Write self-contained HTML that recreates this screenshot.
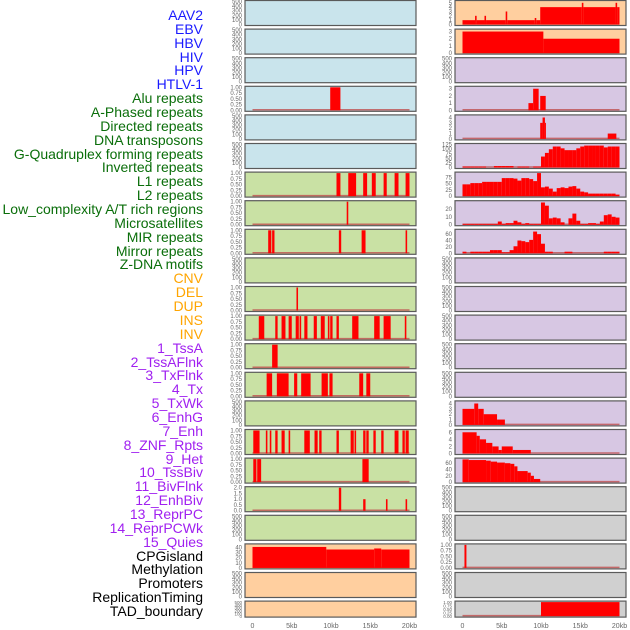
<!DOCTYPE html>
<html><head><meta charset="utf-8"><style>
body{margin:0;width:630px;height:630px;background:#fff;overflow:hidden;font-family:"Liberation Sans",sans-serif;position:relative}
.lbl{position:absolute;right:427px;font-size:14px;line-height:14px;white-space:nowrap}
svg{position:absolute;left:0;top:0}
</style></head><body>
<div id="labels"></div>
<svg id="chart" width="630" height="630"></svg>
<script>
const labelNames=["AAV2","EBV","HBV","HIV","HPV","HTLV-1","Alu repeats","A-Phased repeats","Directed repeats","DNA transposons","G-Quadruplex forming repeats","Inverted repeats","L1 repeats","L2 repeats","Low_complexity A/T rich regions","Microsatellites","MIR repeats","Mirror repeats","Z-DNA motifs","CNV","DEL","DUP","INS","INV","1_TssA","2_TssAFlnk","3_TxFlnk","4_Tx","5_TxWk","6_EnhG","7_Enh","8_ZNF_Rpts","9_Het","10_TssBiv","11_BivFlnk","12_EnhBiv","13_ReprPC","14_ReprPCWk","15_Quies","CPGisland","Methylation","Promoters","ReplicationTiming","TAD_boundary"];
const labelGroups=[6,13,5,15,5];
const groupColors=["#1a1aff","#0a6e0a","#ffa500","#a020f0","#000"];
// left column tracks: [bg, ymax, ticks, segments [startKb,endKb,value]]
const leftBg=["b","b","b","b","b","b","g","g","g","g","g","g","g","g","g","g","g","g","g","o","o","o"];
const rightBg=["o","o","p","p","p","p","p","p","p","p","p","p","p","p","p","p","p","x","x","x","x","x"];
const T01=[0,0.25,0.5,0.75,1];
const leftTicks=[null,null,null,T01,null,null,T01,T01,T01,null,T01,T01,T01,T01,null,T01,T01,[0,0.5,1,1.5,2],null,[0,10,20,30,40],null,null];
const leftMax=[1,1,1,1,1,1,1,1,1,1,1,1,1,1,1,1,1,2,1,45,1,1];
const leftSegs=[[],[],[],[[9.9,11.2,1]],[],[],
[[10.7,11.2,1],[12.2,13.2,1],[14.1,14.6,1],[15.2,15.7,1],[16.7,17.1,1],[18.1,18.6,1],[19.5,20,1]],
[[12,12.2,1]],
[[2,2.4,1],[2.5,2.8,1],[11,11.3,1],[13.9,14.4,1],[19.5,19.7,1]],
[],
[[5.6,5.8,1]],
[[0.8,1.5,1],[2.9,3.2,1],[3.7,4.2,1],[4.6,5,1],[5.5,5.9,1],[6,6.2,1],[6.6,7,1],[7.8,8.2,1],[8.7,9.2,1],[9.6,9.8,1],[9.9,10.2,1],[10.7,11,1],[12.7,13.5,1],[15.5,16.2,1],[16.7,17.6,1],[19.4,19.6,1]],
[[2.5,3.2,1]],
[[1.8,2.5,1],[3.1,4.6,1],[5.3,5.7,1],[6.2,7.4,1],[8.8,9.6,1],[9.8,10.2,1],[13.6,14.1,1],[14.5,15,1]],
[],
[[0.1,0.9,1],[1.7,1.9,1],[2.2,2.4,1],[2.9,3.2,1],[3.7,4.1,1],[4.6,4.8,1],[6.6,7.3,1],[7.9,8.3,1],[8.5,8.8,1],[10.7,11,1],[12.5,12.9,1],[13,13.2,1],[14.1,14.4,1],[14.5,14.8,1],[15.4,15.7,1],[16.4,16.7,1],[18.1,18.6,1],[19.1,19.4,1],[19.5,19.9,1]],
[[0.1,0.5,1],[0.6,1.1,1],[14,14.8,1]],
[[11,11.3,2],[14.1,14.4,1],[17,17.2,1],[19.5,19.7,1]],
[],
[[0,9.4,41],[9.4,15.5,36],[15.5,16.4,38],[16.4,20,36]],
[],[]];
const rightTicks=[[0,1,2,3,4,5],[0,1,2,3],null,[0,1,2,3],[0,1,2,3,4],[0,25,50,75,100,125],[0,25,50,75],[0,10,20],[0,20,40,60],null,null,null,null,null,[0,1,2,3,4],[0,2,4,6],[0,20,40,60],null,null,T01,null,T01];
const rightMax=[5.3,3.2,1,3.2,4.3,126,92,29,72,1,1,1,1,1,4.3,6.5,73,1,1,1,1,1];
const binsG4=[5,5,5,5,5,5,0,0,8,8,8,8,8,0,5,5,5,0,5,5,60,80,100,115,115,105,95,95,95,105,115,120,120,120,120,120,110,115,115,115];
const binsInv=[47,47,52,52,52,57,57,57,57,57,72,72,72,70,62,72,72,68,60,92,35,38,30,18,32,35,32,38,40,30,18,15,10,10,10,10,10,10,10,6];
const binsLow=[1,1,1,1,1,1,1,1,1,4,1,2,2,5,3,1,2,1,1,1,28,24,8,9,8,3,0,8,14,5,1,1,2,2,1,4,12,13,10,9];
const binsMir=[5,0,5,5,5,5,5,10,10,10,3,3,10,22,40,38,35,42,68,60,30,5,5,0,0,0,5,5,0,0,0,0,0,0,0,0,5,5,5,5];
function bins(a){return a.map((v,i)=>[i*0.5,(i+1)*0.5,v]);}
const rightSegs=[
[[0,1.6,1],[1.6,1.8,2],[1.8,2.8,1],[2.8,3,2],[3,5.5,1],[5.5,5.7,3],[5.7,9.2,1],[9.2,9.4,1.5],[9.4,9.9,1],[9.9,15.2,4],[15.2,15.4,5],[15.4,19.5,4],[19.5,19.7,5],[19.7,20,4]],
[[0,10.3,3],[10.3,20,2]],
[],
[[8.4,9,1],[9,9.7,3],[9.9,10.6,2]],
[[9.9,10.2,3],[10.2,10.5,4],[10.5,10.6,3],[18.5,19.6,1]],
bins(binsG4),bins(binsInv),bins(binsLow),bins(binsMir),
[],[],[],[],[],
[[0,1.5,3],[1.5,2,4],[2,2.7,3],[2.7,4.4,2],[4.4,5.4,1]],
[[0,1.8,6],[1.8,2.2,5],[2.2,3,4],[3,3.8,3],[3.8,4.6,2],[4.6,5,1],[5,6.4,2],[6.4,8.7,1]],
[[0,0.8,72],[0.8,3,70],[3,3.6,68],[3.6,4.4,65],[4.4,5.4,62],[5.4,6.1,60],[6.1,6.6,58],[6.6,7,50],[7,8.3,35],[8.3,8.7,30],[8.7,9.1,20],[9.1,9.9,10]],
[],[],[[0.25,0.5,1]],[],[[10,20,1]]];
const xTicks=[0,5,10,15,20];
const xTickLabels=["0","5kb","10kb","15kb","20kb"];
const bgColors={b:"#c9e4ec",g:"#c9e1a4",o:"#ffcf9f",p:"#d7c7e3",x:"#d0d0d0"};
const NS="http://www.w3.org/2000/svg";
const svg=document.getElementById("chart");
function mk(tag,attrs,parent){const e=document.createElementNS(NS,tag);for(const k in attrs)e.setAttribute(k,attrs[k]);(parent||svg).appendChild(e);return e;}
// labels
const lab=document.getElementById("labels");
let idx=0;
labelGroups.forEach((n,g)=>{for(let k=0;k<n;k++){const d=document.createElement("div");d.className="lbl";d.textContent=labelNames[idx];d.style.top=(8+13.86*idx)+"px";d.style.color=groupColors[g];


lab.appendChild(d);idx++;}});
const cols=[{x0:245,x1:416,z:252.5,bgs:leftBg,ticks:leftTicks,max:leftMax,segs:leftSegs,name:"left"},{x0:455,x1:626,z:462.5,bgs:rightBg,ticks:rightTicks,max:rightMax,segs:rightSegs,name:"right"}];
const kbPx=7.85;
cols.forEach(c=>{
 const xs=kb=>c.z+kb*kbPx;
 for(let r=0;r<22;r++){
  const top=r*28.6+0.5, h=(r==21?16:25);
  const g=mk("g",{});
  
  
  mk("rect",{x:c.x0,y:top,width:c.x1-c.x0,height:h,fill:bgColors[c.bgs[r]],stroke:"#5a5a5a","stroke-width":1.2},g);
  const y0=top+h-1, y1=top+1;
  const ys=v=>y0-(v/c.max[r])*(y0-y1);
  const segs=c.segs[r];
  if(segs.length){
   mk("line",{x1:xs(0),x2:xs(20),y1:y0-0.5,y2:y0-0.5,stroke:"#c05050","stroke-width":1.5,opacity:0.8},g);
   segs.forEach(s=>{const b=mk("rect",{x:xs(s[0]),y:ys(s[2]),width:Math.max(1,xs(s[1])-xs(s[0])),height:y0-ys(s[2]),fill:"#ff0000"},g);
    
    });
  }
  const tk=c.ticks[r]||[0,100,200,300,400,500];
  const tmax=c.ticks[r]?c.max[r]:500;
  tk.forEach(t=>{const ty=y0-(t/tmax)*(y0-y1);
   const tt=mk("text",{x:c.x0-3,y:ty+2,"text-anchor":"end","font-size":(r==21?4.5:6),fill:"#666","font-family":"Liberation Sans, sans-serif"},g);
   tt.textContent=(T01.includes(t)&&tk===T01)?t.toFixed(2):(tk.includes(0.5)&&tk.includes(1.5)?t.toFixed(1):String(t));
   
   });
 }
 xTicks.forEach((t,i)=>{const tx=mk("text",{x:xs(t),y:628,"text-anchor":"middle","font-size":7,fill:"#666","font-family":"Liberation Sans, sans-serif"});tx.textContent=xTickLabels[i];
  
  });
});
</script>
</body></html>
